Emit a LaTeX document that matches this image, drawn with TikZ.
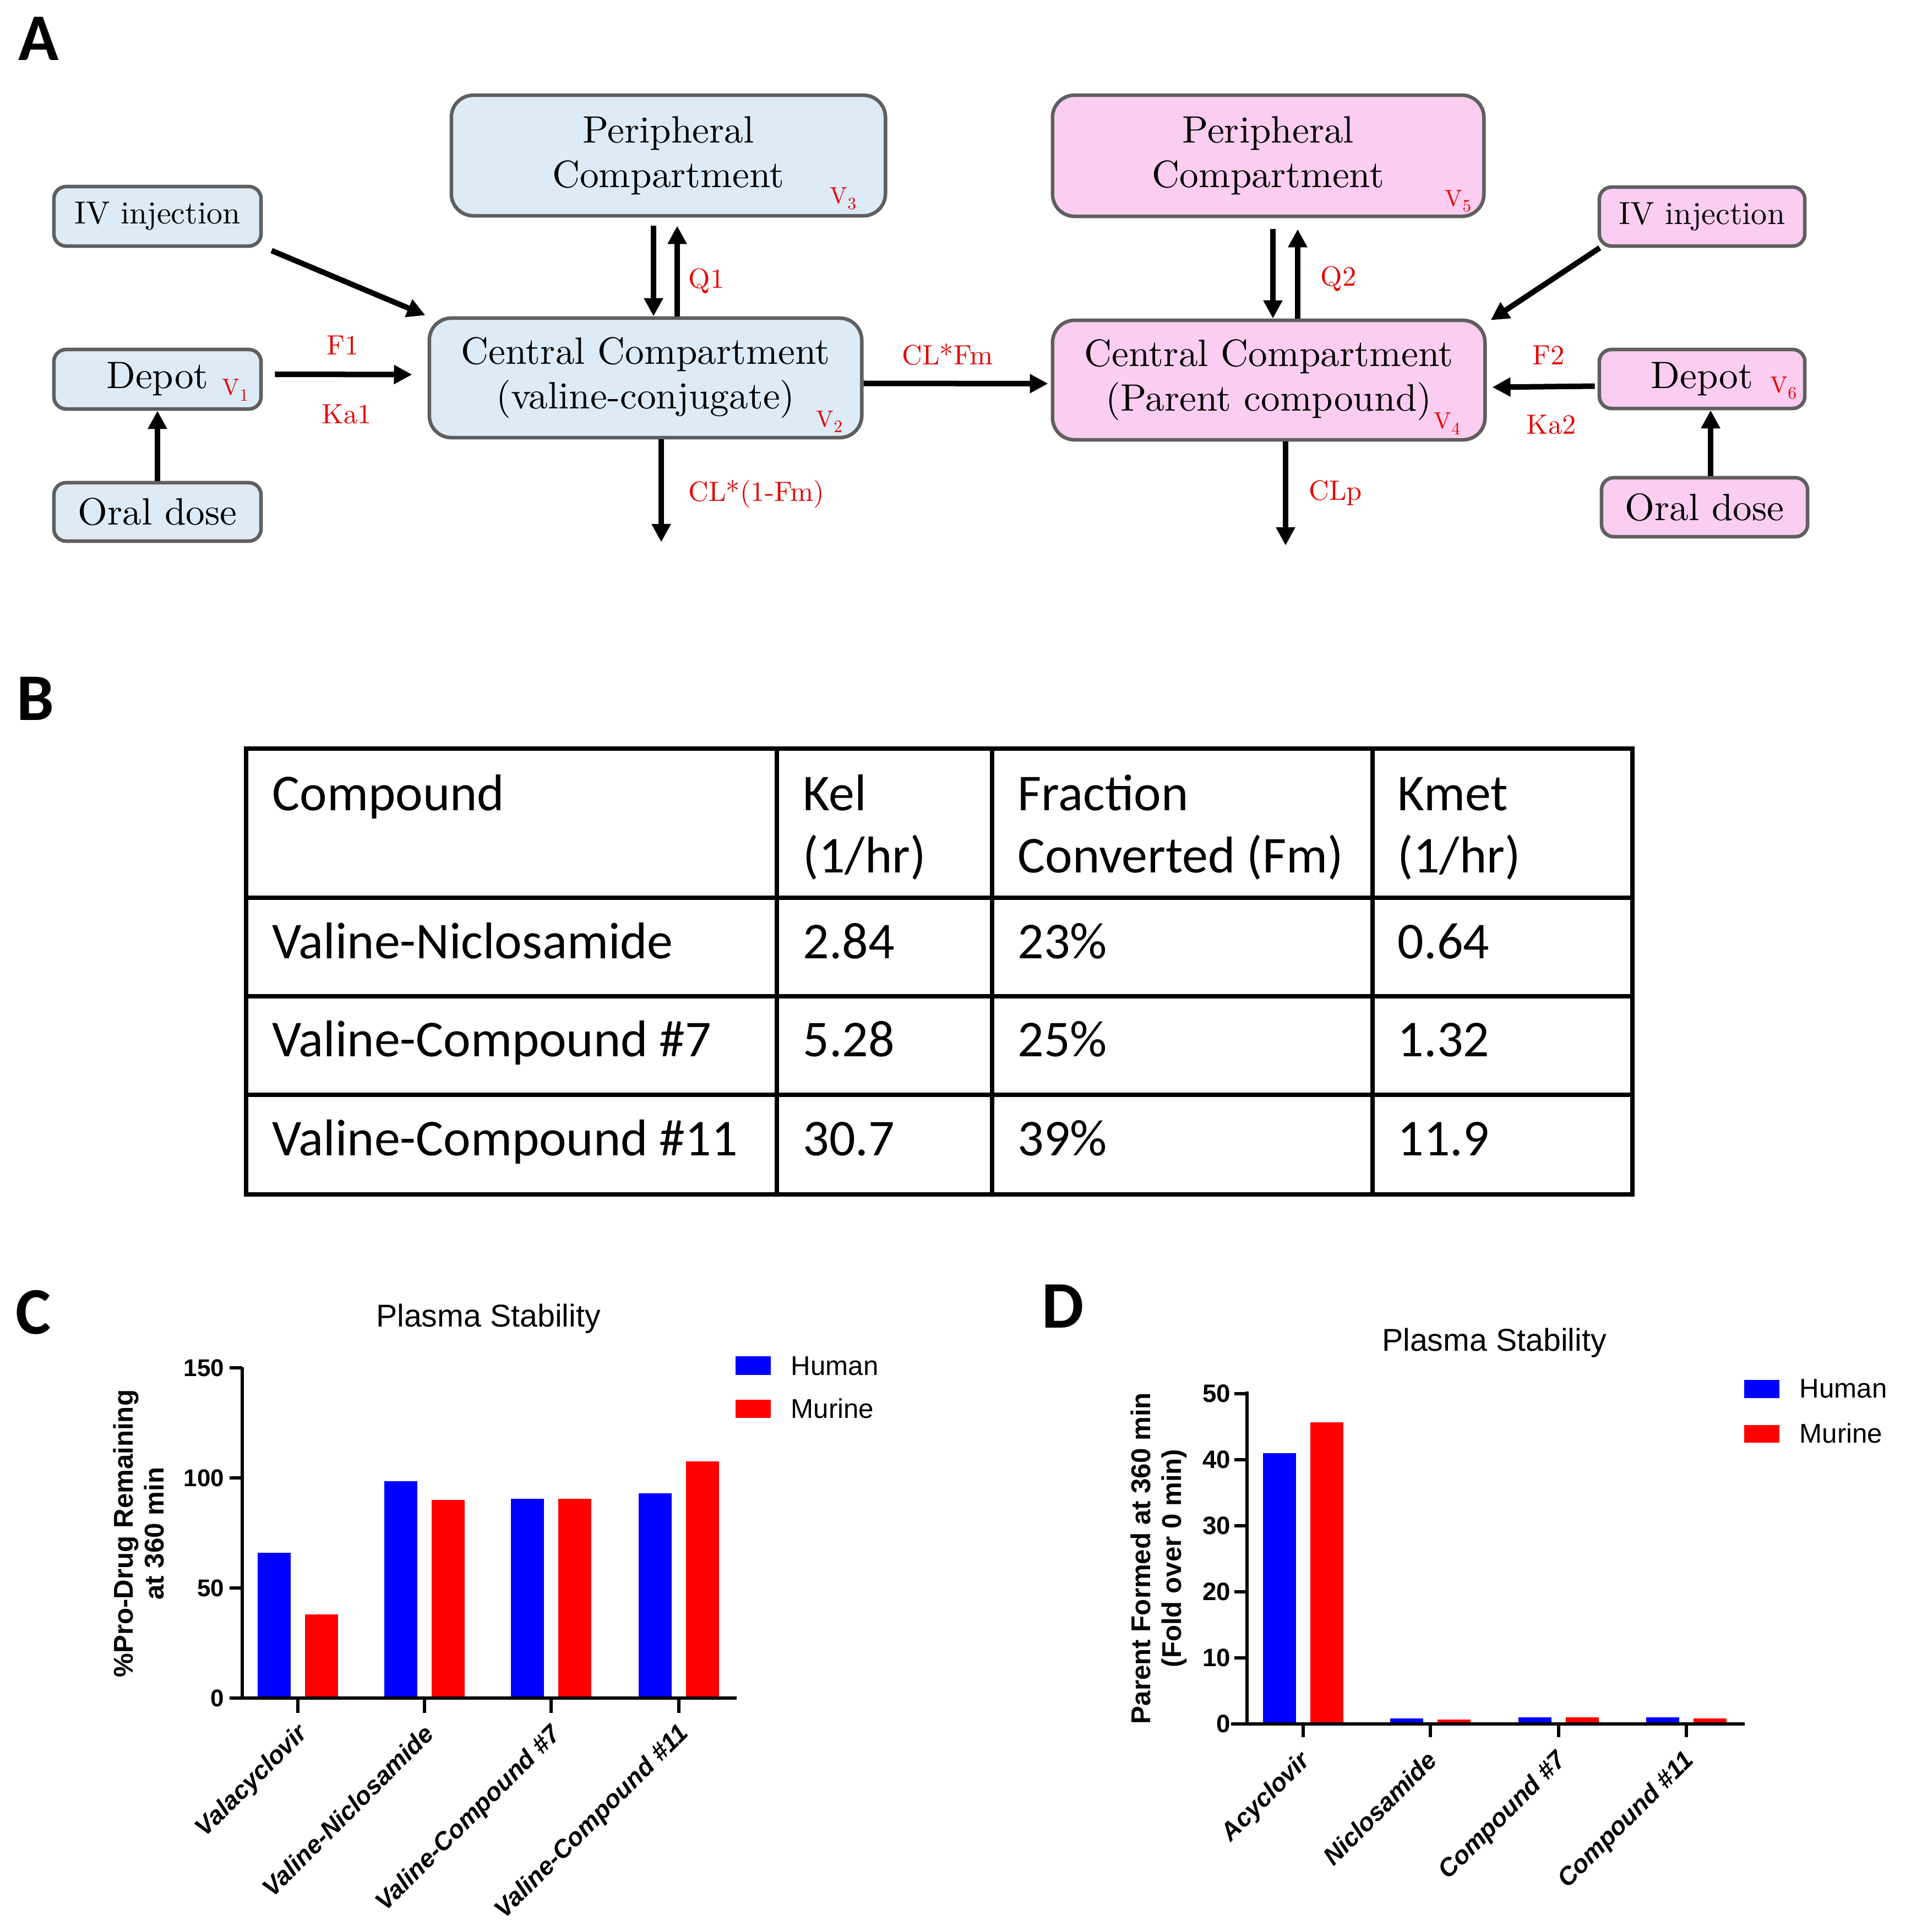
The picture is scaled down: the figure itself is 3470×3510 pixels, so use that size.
\documentclass[tikz,border=0pt]{standalone}
\usepackage{fontspec}
\newfontfamily\calfont{Carlito}
\newfontfamily\arfont{Liberation Sans}
\newfontfamily\lmten{lmroman10-regular.otf}
\usetikzlibrary{arrows.meta,calc}
\definecolor{boxblue}{RGB}{221,235,246}
\definecolor{boxpink}{RGB}{251,205,240}
\definecolor{boxedge}{RGB}{95,95,95}
\definecolor{labred}{RGB}{230,0,0}
\definecolor{barblue}{RGB}{0,0,255}
\definecolor{barred}{RGB}{255,0,0}
\tikzset{
  comp/.style={draw=boxedge, line width=0.065cm, rounded corners=0.4cm, align=center, inner sep=0pt,
    font={\lmten\fontsize{19.7}{23}\selectfont}},
  small/.style={rounded corners=0.22cm},
  bluebox/.style={comp, fill=boxblue},
  pinkbox/.style={comp, fill=boxpink},
  arr/.style={line width=0.1cm, -{Triangle[length=0.33cm,width=0.33cm]}},
  lab/.style={text=labred, font={\lmten\fontsize{14.4}{16}\selectfont}, inner sep=0pt, anchor=base west},
  vol/.style={text=labred, font={\lmten\fontsize{12}{14}\selectfont}, inner sep=0pt, anchor=base west},
  panel/.style={font={\calfont\bfseries\fontsize{34.4}{40}\selectfont}, inner sep=0pt, anchor=base west},
  tline/.style={line width=0.08cm},
  tcell/.style={font={\calfont\fontsize{26.7}{30}\selectfont}, inner sep=0pt, anchor=base west},
  axl/.style={line width=0.065cm},
  ctitle/.style={font={\arfont\fontsize{16.3}{18}\selectfont}, inner sep=0pt, anchor=base},
  legtxt/.style={font={\arfont\fontsize{14}{16}\selectfont}, inner sep=0pt, anchor=base west},
  ytl/.style={font={\arfont\bfseries\fontsize{12.5}{14}\selectfont}, inner sep=0pt, anchor=east},
  ytlD/.style={font={\arfont\bfseries\fontsize{13}{15}\selectfont}, inner sep=0pt, anchor=east},
  xtl/.style={font={\arfont\bfseries\itshape\fontsize{13}{15}\selectfont}, inner sep=0pt, anchor=north east, rotate=45},
  ytitle/.style={font={\arfont\bfseries\fontsize{14}{16}\selectfont}, inner sep=0pt, align=center, rotate=90},
}
\begin{document}
\begin{tikzpicture}[x=0.01cm,y=-0.01cm]
\fill[white] (0,0) rectangle (3470,3510);
\path[use as bounding box] (0,0) rectangle (3470,3510);

% ---------------- Panel A ----------------
\node[panel] (pA) at (33,110) {A};

\node[bluebox, small, minimum width=3.76cm, minimum height=1.08cm] (ivL) at (286,393) {\fontsize{16.5}{20}\selectfont IV injection};
\node[bluebox, small, minimum width=3.76cm, minimum height=1.08cm] (depL) at (286,689) {Depot};
\node[bluebox, small, minimum width=3.76cm, minimum height=1.06cm] (oralL) at (286,930) {Oral dose};
\node[bluebox, minimum width=7.88cm, minimum height=2.19cm] (perL) at (1214,282.5) {Peripheral\\Compartment};
\node[bluebox, minimum width=7.85cm, minimum height=2.17cm] (cenL) at (1172.5,686.5) {Central Compartment\\(valine-conjugate)};

\node[pinkbox, minimum width=7.83cm, minimum height=2.20cm] (perR) at (2303.5,283) {Peripheral\\Compartment};
\node[pinkbox, minimum width=7.85cm, minimum height=2.17cm] (cenR) at (2304.5,690.5) {Central Compartment\\(Parent compound)};
\node[pinkbox, small, minimum width=3.73cm, minimum height=1.07cm] (ivR) at (3091.5,393.5) {\fontsize{16.5}{20}\selectfont IV injection};
\node[pinkbox, small, minimum width=3.73cm, minimum height=1.07cm] (depR) at (3091.5,688.5) {Depot};
\node[pinkbox, small, minimum width=3.74cm, minimum height=1.07cm] (oralR) at (3096,921.5) {Oral dose};

% volumes
\node[vol] (v1) at (403,718) {V\raisebox{-0.1cm}{\fontsize{9}{10}\selectfont 1}};
\node[vol] (v2) at (1482,775) {V\raisebox{-0.1cm}{\fontsize{9}{10}\selectfont 2}};
\node[vol] (v3) at (1507,370) {V\raisebox{-0.1cm}{\fontsize{9}{10}\selectfont 3}};
\node[vol] (v4) at (2604,779) {V\raisebox{-0.1cm}{\fontsize{9}{10}\selectfont 4}};
\node[vol] (v5) at (2624,375) {V\raisebox{-0.1cm}{\fontsize{9}{10}\selectfont 5}};
\node[vol] (v6) at (3215,714) {V\raisebox{-0.1cm}{\fontsize{9}{10}\selectfont 6}};

% arrows left
\draw[arr] ($(ivL.south east)+(16,5)$) -- ($(cenL.north west)+(-4,-2)$);
\draw[arr] ($(depL.east)+(22,-9)$) -- ($(cenL.west)+(-28,-6)$);
\draw[arr] (oralL.north) -- (depL.south);
\draw[arr] ($(perL.south)+(-27,15)$) -- ($(perL.south |- cenL.north)+(-27,0)$);
\draw[arr] ($(perL.south |- cenL.north)+(16,0)$) -- ($(perL.south)+(16,15)$);
\coordinate (outL) at (1201,985);
\draw[arr] (cenL.south -| outL) -- (outL);
\draw[arr] ($(cenL.east)+(0,10)$) -- ($(cenR.west)+(-5,6.5)$);

% arrows right
\draw[arr] ($(perR.south)+(8.5,20)$) -- ($(perR.south |- cenR.north)+(8.5,0)$);
\draw[arr] ($(perR.south |- cenR.north)+(53.5,0)$) -- ($(perR.south)+(53.5,20)$);
\coordinate (outR) at (2335,991);
\draw[arr] (cenR.south -| outR) -- (outR);
\draw[arr] ($(ivR.south west)+(4,0)$) -- ($(cenR.north east)+(7,3)$);
\draw[arr] ($(depR.west)+(-5,13)$) -- ($(cenR.east)+(10,13)$);
\draw[arr] ($(oralR.north)+(11,0)$) -- ($(oralR.north |- depR.south)+(11,0)$);

% rate labels
\node[lab] (lF1) at (593,645) {F1};
\node[lab] (lKa1) at (584,770) {Ka1};
\node[lab] (lQ1) at (1250,524) {Q1};
\node[lab] (lCL1) at (1250,910) {CL*(1-Fm)};
\node[lab] (lCLFm) at (1638,663) {CL*Fm};
\node[lab] (lQ2) at (2398,520) {Q2};
\node[lab] (lF2) at (2783,663) {F2};
\node[lab] (lKa2) at (2772,788) {Ka2};
\node[lab] (lCLp) at (2377,908) {CLp};

% ---------------- Panel B ----------------
\node[panel] (pB) at (30,1308) {B};
\draw[tline] (447,1360) rectangle (2965,2170);
\foreach \yy in {1631,1810,1989} \draw[tline] (447,\yy) -- (2965,\yy);
\foreach \xx in {1411,1802,2493} \draw[tline] (\xx,1360) -- (\xx,2170);
\node[tcell] (h1) at (494,1472) {Compound};
\node[tcell] (h2a) at (1458,1472) {Kel};
\node[tcell] (h2b) at (1458,1585) {(1/hr)};
\node[tcell] (h3a) at (1848,1472) {Fraction};
\node[tcell] (h3b) at (1848,1585) {Converted (Fm)};
\node[tcell] (h4a) at (2538,1472) {Kmet};
\node[tcell] (h4b) at (2538,1585) {(1/hr)};
\node[tcell] (r1a) at (494,1741) {Valine-Niclosamide};
\node[tcell] (r1b) at (1458,1741) {2.84};
\node[tcell] (r1c) at (1848,1741) {23\%};
\node[tcell] (r1d) at (2538,1741) {0.64};
\node[tcell] (r2a) at (494,1919) {Valine-Compound \#7};
\node[tcell] (r2b) at (1458,1919) {5.28};
\node[tcell] (r2c) at (1848,1919) {25\%};
\node[tcell] (r2d) at (2538,1919) {1.32};
\node[tcell] (r3a) at (494,2099) {Valine-Compound \#11};
\node[tcell] (r3b) at (1458,2099) {30.7};
\node[tcell] (r3c) at (1848,2099) {39\%};
\node[tcell] (r3d) at (2538,2099) {11.9};

% ---------------- Panel C ----------------
\node[panel] (pC) at (28,2423) {C};
\node[ctitle] (cT) at (887,2410) {Plasma Stability};
\foreach \c/\h/\m in {541/66/38, 771/98.5/90, 1001/90.5/90.5, 1233/93/107.5} {
  \fill[barblue] ({\c-73},3085) rectangle ({\c-13},{3085-4*\h});
  \fill[barred] ({\c+13},3085) rectangle ({\c+73},{3085-4*\m});
}
\draw[axl] (440,2484) -- (440,3088);
\draw[axl] (417,3085) -- (1338,3085);
\foreach \v in {0,50,100,150} {
  \draw[axl] (417,{3085-4*\v}) -- (440,{3085-4*\v});
  \node[ytl] (cy\v) at (408,{3085-4*\v}) {\v};
}
\foreach \c in {541,771,1001,1233} \draw[axl] (\c,3085) -- (\c,3112);
\node[xtl] (cx1) at (537,3127) {Valacyclovir};
\node[xtl] (cx2) at (767,3129) {Valine-Niclosamide};
\node[xtl] (cx3) at (997,3129) {Valine-Compound \#7};
\node[xtl] (cx4) at (1229,3127) {Valine-Compound \#11};
\node[ytitle] (cYT) at (252,2786) {\%Pro-Drug Remaining\\at 360 min};
\fill[barblue] (1336,2464) rectangle (1400,2498);
\fill[barred] (1336,2543) rectangle (1400,2576);
\node[legtxt] (cL1) at (1436,2498) {Human};
\node[legtxt] (cL2) at (1436,2576) {Murine};

% ---------------- Panel D ----------------
\node[panel] (pD) at (1892,2412) {D};
\node[ctitle] (dT) at (2714,2454) {Plasma Stability};
\foreach \c/\h/\m in {2367/41/45.7, 2598/0.8/0.7, 2831/1.0/1.0, 3063/1.0/0.8} {
  \fill[barblue] ({\c-73},3132) rectangle ({\c-13},{3132-12*\h});
  \fill[barred] ({\c+13},3132) rectangle ({\c+73},{3132-12*\m});
}
\draw[axl] (2265,2528) -- (2265,3135);
\draw[axl] (2236,3132) -- (3169,3132);
\foreach \v in {0,10,20,30,40,50} {
  \draw[axl] (2242,{3132-12*\v}) -- (2265,{3132-12*\v});
  \node[ytlD] (dy\v) at (2236,{3132-12*\v}) {\v};
}
\foreach \c in {2367,2598,2831,3063} \draw[axl] (\c,3132) -- (\c,3156);
\node[xtl] (dx1) at (2358,3177) {Acyclovir};
\node[xtl] (dx2) at (2589,3177) {Niclosamide};
\node[xtl] (dx3) at (2823,3176) {Compound \#7};
\node[xtl] (dx4) at (3055,3176) {Compound \#11};
\node[ytitle] (dYT) at (2105,2831) {Parent Formed at 360 min\\(Fold over 0 min)};
\fill[barblue] (3168,2507) rectangle (3232,2540);
\fill[barred] (3168,2589) rectangle (3232,2621);
\node[legtxt] (dL1) at (3268,2539) {Human};
\node[legtxt] (dL2) at (3268,2621) {Murine};
\end{tikzpicture}
\end{document}
